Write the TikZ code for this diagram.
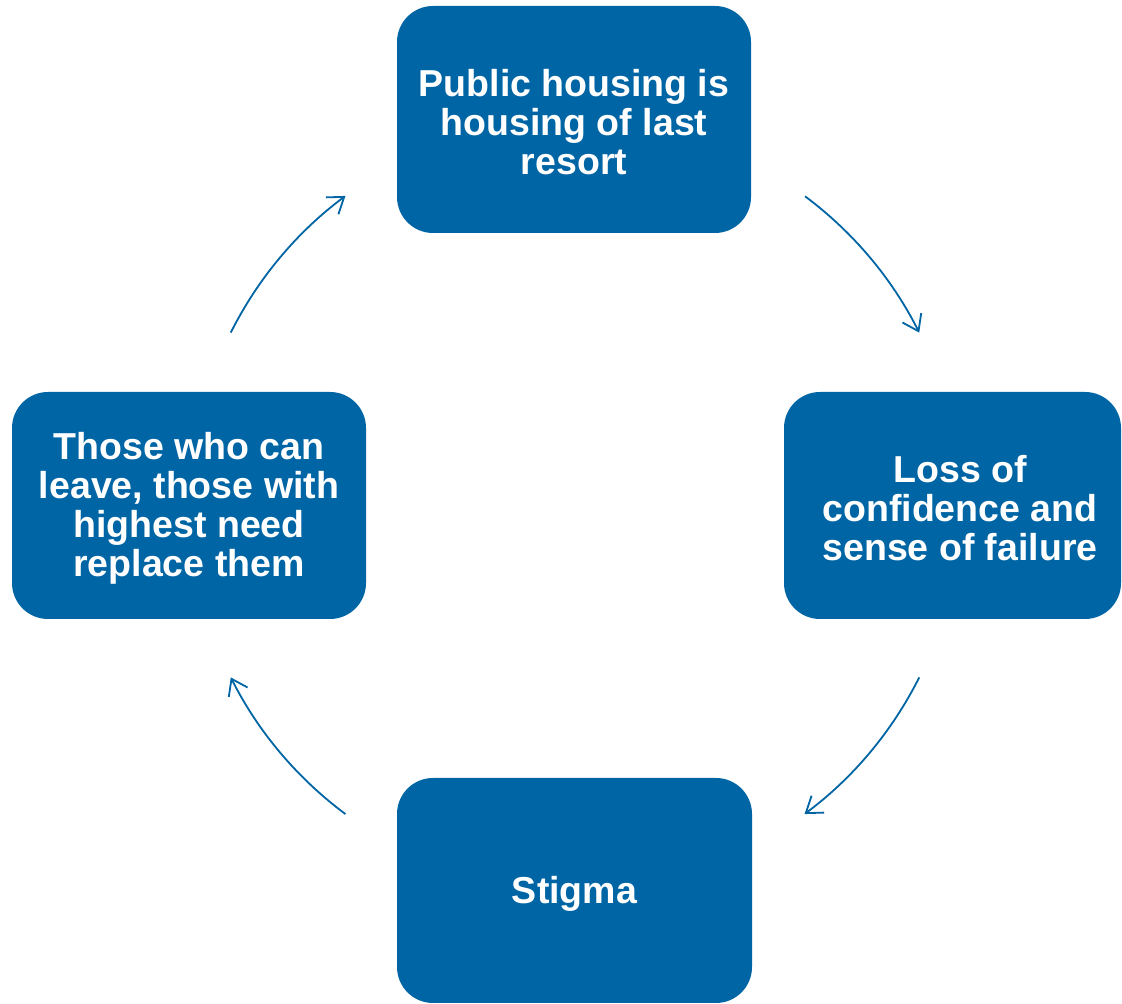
\documentclass[tikz,border=0pt]{standalone}
\usepackage{fontspec}
\setmainfont{Liberation Sans}
\usetikzlibrary{arrows.meta}
\definecolor{boxblue}{RGB}{0,101,165}
\begin{document}
\begin{tikzpicture}[x=1pt,y=1pt,
  box/.style={rectangle, rounded corners=36pt, fill=boxblue, draw=none, inner sep=0pt},
  boxtext/.style={text=white, font=\fontsize{37.5}{39}\selectfont\bfseries, align=center, inner sep=0pt, yshift=-3pt},
  cycarrow/.style={draw=boxblue, line width=1.8pt, -{Straight Barb[length=15pt,width=21pt]}}]
\useasboundingbox (0,0) rectangle (1122,1004);
% boxes
\node[box, minimum width=354pt, minimum height=227pt] (top) at (574,884.5) {};
\node[box, minimum width=337pt, minimum height=227pt] (right) at (952.5,498.5) {};
\node[box, minimum width=355pt, minimum height=225pt] (bottom) at (574.5,113.5) {};
\node[box, minimum width=354pt, minimum height=227pt] (left) at (189,498.5) {};
% texts
\node[boxtext] (toptext) at (top.center) {Public housing is\\housing of last\\resort};
\node[boxtext] (righttext) at (960,498.5) {Loss of\\confidence and\\sense of failure};
\node[boxtext] (bottomtext) at (bottom.center) {Stigma};
\node[boxtext] (lefttext) at (left.center) {Those who can\\leave, those with\\highest need\\replace them};
% cycle arrows
\coordinate (c) at (575,499);
\coordinate (a1) at ([shift={(53.3:385)}]c);
\coordinate (a2) at ([shift={(-26.6:385)}]c);
\coordinate (a3) at ([shift={(-126.6:385)}]c);
\coordinate (a4) at ([shift={(153.4:385)}]c);
\draw[cycarrow] (a1) arc[start angle=53.3, end angle=26.6, radius=385];
\draw[cycarrow] (a2) arc[start angle=-26.6, end angle=-53.4, radius=385];
\draw[cycarrow] (a3) arc[start angle=-126.6, end angle=-153.4, radius=385];
\draw[cycarrow] (a4) arc[start angle=153.4, end angle=126.6, radius=385];
\end{tikzpicture}
\end{document}
